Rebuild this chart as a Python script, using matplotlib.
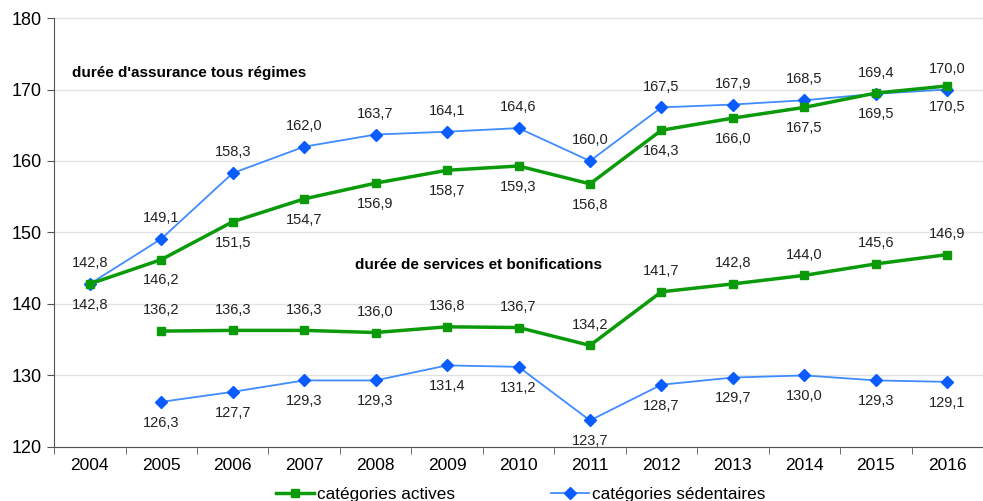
import matplotlib
matplotlib.use("Agg")
import matplotlib.pyplot as plt

years = list(range(2004, 2017))
svc_years = list(range(2005, 2017))

assur_sedentaires = [142.8, 149.1, 158.3, 162.0, 163.7, 164.1, 164.6, 160.0, 167.5, 167.9, 168.5, 169.4, 170.0]
assur_actives = [142.8, 146.2, 151.5, 154.7, 156.9, 158.7, 159.3, 156.8, 164.3, 166.0, 167.5, 169.5, 170.5]
svc_actives = [136.2, 136.3, 136.3, 136.0, 136.8, 136.7, 134.2, 141.7, 142.8, 144.0, 145.6, 146.9]
svc_sedentaires = [126.3, 127.7, 129.3, 129.3, 131.4, 131.2, 123.7, 128.7, 129.7, 130.0, 129.3, 129.1]

GREEN = "#0a9a0a"
BLUE_LINE = "#3f8cff"
BLUE_MARK = "#0a5cff"

plt.rcParams["font.family"] = ["Liberation Sans", "DejaVu Sans"]

fig = plt.figure(figsize=(9.83, 5.01), dpi=100)
ax = fig.add_axes([0.055, 0.108, 0.945, 0.856])


def fmt(v):
    return f"{v:.1f}".replace(".", ",")


def label(xs, ys, dy):
    for x, y in zip(xs, ys):
        ax.annotate(fmt(y), (x, y), xytext=(0, dy), textcoords="offset points",
                    ha="center", va="center", fontsize=10.5, color="#222222")


ax.plot(years, assur_sedentaires, color=BLUE_LINE, lw=1.3, marker="D", ms=6,
        mfc=BLUE_MARK, mec=BLUE_MARK, zorder=3, label="catégories sédentaires")
ax.plot(years, assur_actives, color=GREEN, lw=2.5, marker="s", ms=6,
        mfc=GREEN, mec=GREEN, zorder=4, label="catégories actives")
ax.plot(svc_years, svc_actives, color=GREEN, lw=2.5, marker="s", ms=6,
        mfc=GREEN, mec=GREEN, zorder=4)
ax.plot(svc_years, svc_sedentaires, color=BLUE_LINE, lw=1.3, marker="D", ms=6,
        mfc=BLUE_MARK, mec=BLUE_MARK, zorder=3)

label(years, assur_sedentaires, 15)
label(years, assur_actives, -15)
label(svc_years, svc_actives, 15)
label(svc_years, svc_sedentaires, -15)

ax.text(2003.75, 172.3, "durée d'assurance tous régimes", fontsize=11,
        fontweight="bold", va="center", ha="left")
ax.text(2007.71, 145.5, "durée de services et bonifications", fontsize=11,
        fontweight="bold", va="center", ha="left")

ax.set_ylim(120, 180)
ax.set_yticks(range(120, 181, 10))
ax.set_xlim(2003.5, 2016.4)
ax.set_xticks(years)
ax.set_xticks([y - 0.5 for y in years] + [2016.5], minor=True)
ax.tick_params(axis="x", which="major", length=0, labelsize=12.5, pad=8)
ax.tick_params(axis="x", which="minor", length=5, color="#555555")
ax.tick_params(axis="y", length=5, labelsize=13, color="#555555", pad=4)
ax.grid(axis="y", color="#e2e2e2", lw=1, clip_on=False)
ax.set_axisbelow(True)
for s in ["top", "right"]:
    ax.spines[s].set_visible(False)
for s in ["left", "bottom"]:
    ax.spines[s].set_color("#555555")

h, l = ax.get_legend_handles_labels()
fig.legend(h[::-1], l[::-1], loc="lower center", bbox_to_anchor=(0.53, -0.032),
           ncol=2, frameon=False, fontsize=12.3, handlelength=2.2, handletextpad=0.2,
           columnspacing=5.6)

fig.savefig("out.png", dpi=100)
